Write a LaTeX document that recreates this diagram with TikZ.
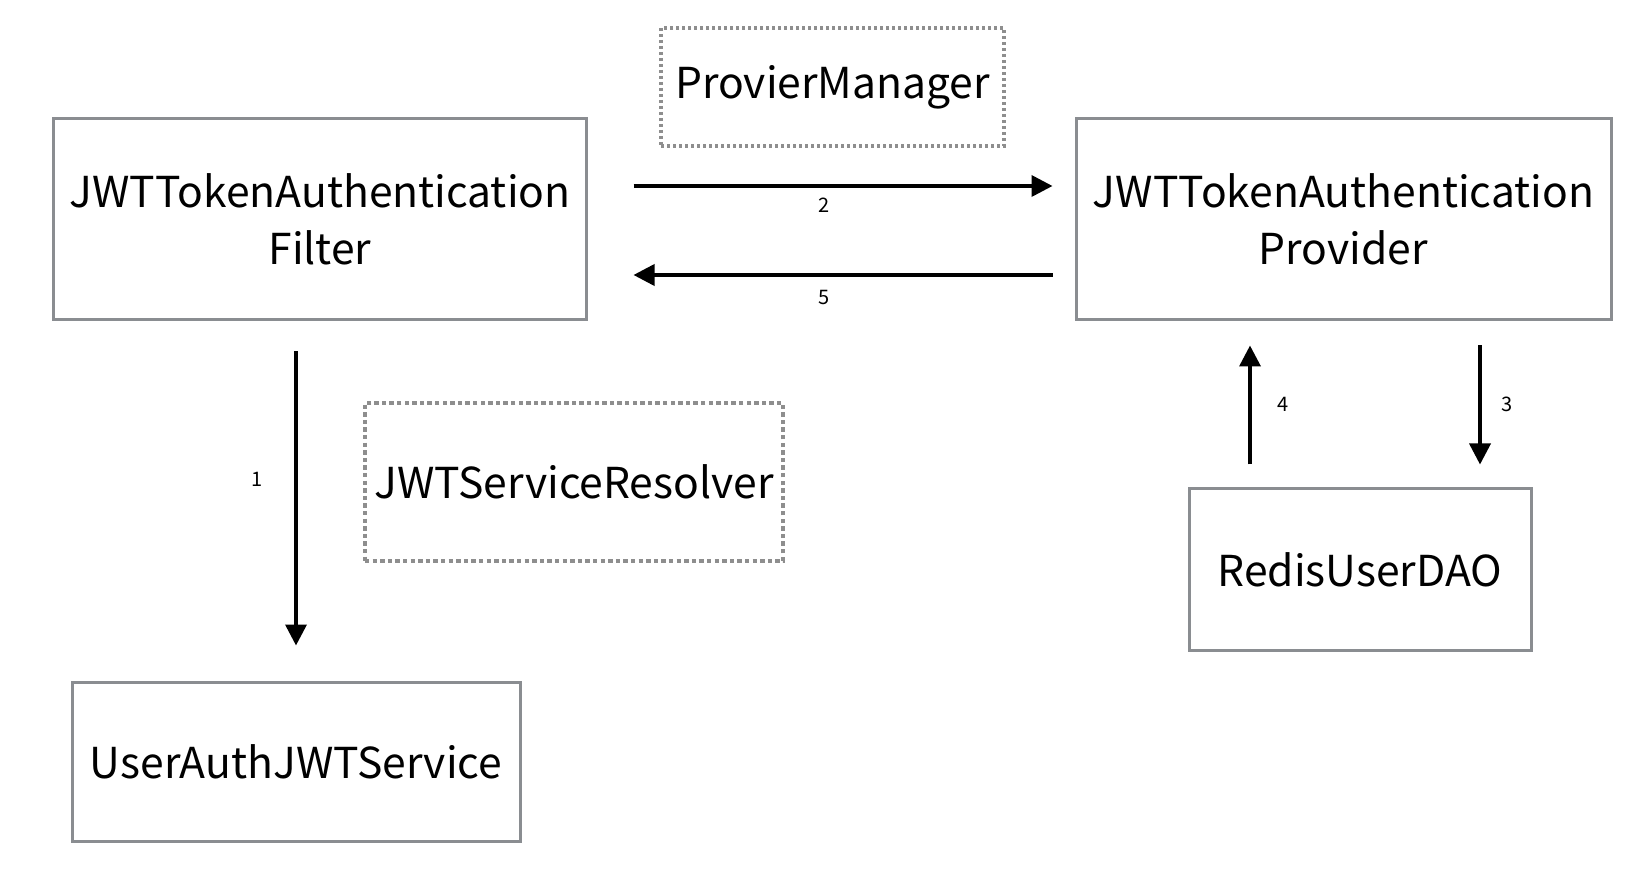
\documentclass[tikz,border=0pt]{standalone}
\usepackage{fontspec}
\setmainfont{Noto Sans CJK KR}
\usetikzlibrary{arrows.meta}
\definecolor{boxgray}{HTML}{8A8D91}
\definecolor{dotgray}{HTML}{8E8E8E}

\begin{document}
\begin{tikzpicture}[x=0.5pt, y=-0.5pt,
		box/.style = {draw=boxgray, line width=1.5pt, align=center, inner sep=0pt, font=\fontsize{21.3}{28.5}\selectfont},
		dotbox/.style = {box, draw=dotgray, line width=1.6pt, dash pattern=on 1.5pt off 1.5pt},
		flow/.style = {line width=1.8pt, -{Triangle[length=10.5pt,width=10.5pt]}},
		num/.style = {font=\fontsize{10}{12}\selectfont, inner sep=0pt}]
		\useasboundingbox (0,0) rectangle (1648,892);
		% boxes
		\node[box, minimum width=266.5pt, minimum height=100.5pt] (filter) at (320,219.5) {JWTTokenAuthentication\\Filter};
		\node[box, minimum width=267.5pt, minimum height=100.5pt] (provider) at (1343.5,219.5) {JWTTokenAuthentication\\Provider};
		\node[dotbox, minimum width=171.5pt, minimum height=59pt] (manager) at (832.5,87) {ProvierManager};
		\node[dotbox, line width=2pt, dash pattern=on 2.2pt off 1.6pt, minimum width=209pt, minimum height=79pt] (resolver) at (574,482) {JWTServiceResolver};
		\node[box, minimum width=224pt, minimum height=79.5pt] (userauth) at (296,761.5) {UserAuthJWTService};
		\node[box, minimum width=171pt, minimum height=80.5pt] (redis) at (1360,569.5) {RedisUserDAO};
		% arrows
		\draw[flow, shorten <=22.75pt, shorten >=11pt] ([yshift=16.75pt]filter.east) -- node[num, pos=0.485, below=5pt] {2} ([yshift=16.75pt]provider.west);
		\draw[flow, shorten <=11pt, shorten >=22.75pt] ([yshift=-27.75pt]provider.west) -- node[num, pos=0.515, below=6.5pt] {5} ([yshift=-27.75pt]filter.east);
		\draw[flow, shorten <=15pt, shorten >=17.5pt] (userauth.north |- filter.south) -- node[num, pos=0.44, left=16pt] {1} (userauth.north);
		\draw[flow, shorten <=12pt, shorten >=11.5pt] ([xshift=60pt]redis.north |- provider.south) -- node[num, right=10pt] {3} ([xshift=60pt]redis.north);
		\draw[flow, shorten <=11.5pt, shorten >=12pt] ([xshift=-55pt]redis.north) -- node[num, right=13pt] {4} ([xshift=-55pt]redis.north |- provider.south);
	\end{tikzpicture}
\end{document}
